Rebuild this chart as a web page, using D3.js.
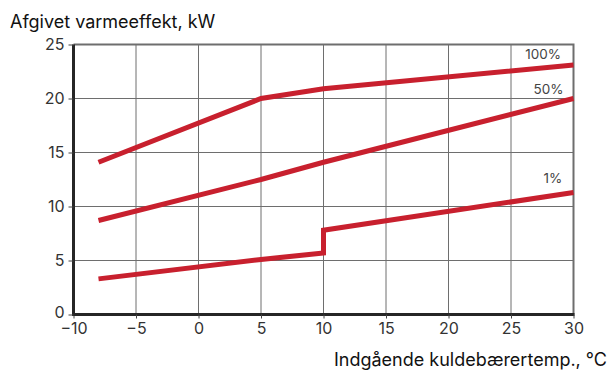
<!DOCTYPE html>
<html><head><meta charset="utf-8">
<script src="https://cdn.jsdelivr.net/npm/d3@7"></script>
<style>
body{margin:0;background:#fff;}
text{font-family:Inter,"Noto Sans",sans-serif;}
</style></head>
<body><svg id="c" width="611" height="370"></svg>
<script>
const xTicks = [-10, -5, 0, 5, 10, 15, 20, 25, 30];
const yTicks = [0, 5, 10, 15, 20, 25];
const labels = ["100%", "50%", "1%"];
const temps100 = [-8, 5, 10, 30];
const power100 = [14.1, 20.0, 20.9, 23.1];
const temps50 = [-8, 5, 10, 30];
const power50 = [8.7, 12.5, 14.1, 20.0];
const temps1 = [-8, 5, 10, 10, 30];
const power1 = [3.3, 5.1, 5.7, 7.8, 11.3];
const labelPos = [[29.0, 23.7], [29.2, 20.4], [29.1, 12.2]];

const svg = d3.select("#c");
const x = d3.scaleLinear().domain([-10, 30]).range([73.5, 573.5]);
const y = d3.scaleLinear().domain([0, 25]).range([314.5, 44.5]);

// grid
svg.append("g").selectAll("line").data(xTicks.slice(1, -1)).join("line")
  .attr("x1", d => x(d)).attr("x2", d => x(d)).attr("y1", y(25)).attr("y2", y(0))
  .attr("stroke", "#6e6e6e").attr("stroke-width", 1);
svg.append("g").selectAll("line").data(yTicks.slice(1, -1)).join("line")
  .attr("y1", d => y(d)).attr("y2", d => y(d)).attr("x1", x(-10)).attr("x2", x(30))
  .attr("stroke", "#6e6e6e").attr("stroke-width", 1);

// frame top/right
svg.append("path")
  .attr("d", `M${x(-10)},${y(25)}H${x(30)}V${y(0)}`)
  .attr("fill", "none").attr("stroke", "#6e6e6e").attr("stroke-width", 2);

// axes
const xAxis = d3.axisBottom(x).tickValues(xTicks).tickSize(4).tickPadding(4)
  .tickFormat(d => d < 0 ? "\u2212" + Math.abs(d) : d);
const gx = svg.append("g").attr("transform", `translate(0,${y(0)})`).call(xAxis);
const yAxis = d3.axisLeft(y).tickValues(yTicks).tickSize(5).tickPadding(4);
const gy = svg.append("g").attr("transform", `translate(${x(-10)},0)`).call(yAxis);
[gx, gy].forEach(g => {
  g.select(".domain").attr("stroke", "#262626").attr("stroke-width", 3);
  g.selectAll(".tick line").attr("stroke", "#444");
  g.selectAll(".tick text").attr("fill", "#333").style("font-size", "16px")
    .style("font-family", "Inter,'Noto Sans',sans-serif");
});
gx.select(".domain").attr("d", `M${x(-10) - 1.5},0H${x(30) + 1}`);
gy.select(".domain").attr("d", `M0,${y(25)}V${y(0) + 1.5}`);
gy.selectAll(".tick text").filter(d => d === 0).attr("dy", "0.2em");

// series
const line = d3.line().x(d => x(d[0])).y(d => y(d[1]));
[[temps100, power100], [temps50, power50], [temps1, power1]].forEach(([t, p]) => {
  svg.append("path").datum(t.map((v, i) => [v, p[i]]))
    .attr("d", line).attr("fill", "none").attr("stroke", "#c8202e")
    .attr("stroke-width", 5).attr("stroke-linejoin", "miter");
});

// series labels
svg.selectAll(".lbl").data(labels).join("text").attr("class", "lbl")
  .attr("x", (d, i) => x(labelPos[i][0])).attr("y", (d, i) => y(labelPos[i][1]))
  .attr("text-anchor", "end").attr("fill", "#444").style("font-size", "13.5px").text(d => d);

// titles
svg.append("text").attr("x", 10).attr("y", 28).attr("fill", "#111")
  .style("font-size", "18px").text("Afgivet varmeeffekt, kW");
svg.append("text").attr("x", 607).attr("y", 366).attr("text-anchor", "end").attr("fill", "#111")
  .style("font-size", "18px").text("Indgående kuldebærertemp., °C");
</script></body></html>
